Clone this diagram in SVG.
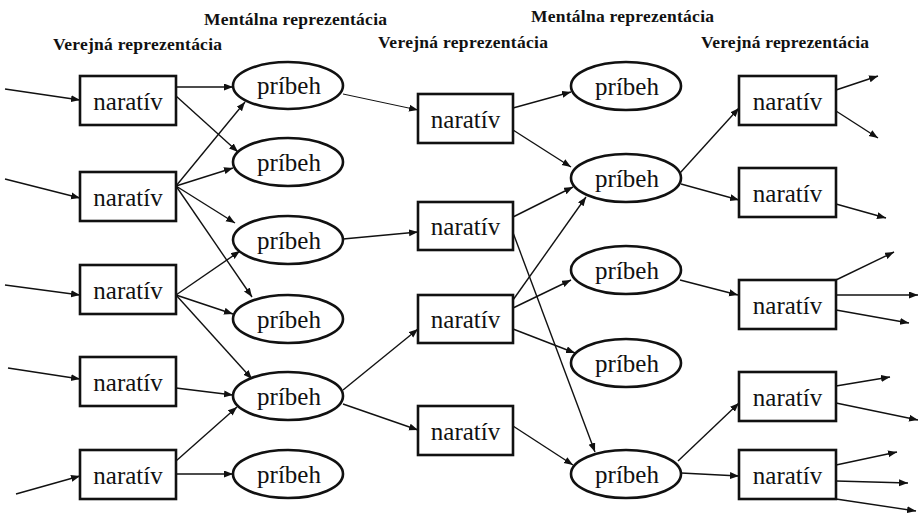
<svg xmlns="http://www.w3.org/2000/svg" width="918" height="513" viewBox="0 0 918 513">
<defs>
<marker id="ah" markerUnits="userSpaceOnUse" markerWidth="10" markerHeight="8" refX="9" refY="3.5" orient="auto">
<path d="M0,0 L9,3.5 L0,7 Z" fill="#111"/>
</marker>
<style>
.box{fill:#fff;stroke:#111;stroke-width:2.6}
.ell{fill:#fff;stroke:#111;stroke-width:2.6}
.lbl{font-family:"Liberation Serif","Times New Roman",serif;font-size:25px;fill:#111;text-anchor:middle}
.hdr{font-family:"Liberation Serif","Times New Roman",serif;font-size:17.5px;font-weight:bold;fill:#111}
.c{stroke:#111;stroke-width:1.4;fill:none;marker-end:url(#ah)}
.thin{stroke-width:1}
</style>
</defs>
<rect width="918" height="513" fill="#fff"/>
<g id="headers">
<text class="hdr" x="204" y="25" textLength="183">Mentálna reprezentácia</text>
<text class="hdr" x="53" y="50" textLength="169">Verejná reprezentácia</text>
<text class="hdr" x="378" y="48" textLength="170">Verejná reprezentácia</text>
<text class="hdr" x="531" y="22" textLength="183">Mentálna reprezentácia</text>
<text class="hdr" x="701" y="48" textLength="168">Verejná reprezentácia</text>
</g>
<g id="connectors">
<line class="c" x1="5" y1="89" x2="80" y2="100"/>
<line class="c" x1="5" y1="179" x2="80" y2="198"/>
<line class="c" x1="5" y1="285" x2="80" y2="295"/>
<line class="c" x1="8" y1="368" x2="80" y2="379"/>
<line class="c" x1="16" y1="494" x2="80" y2="476"/>
<line class="c" x1="176" y1="87" x2="233" y2="87"/>
<line class="c" x1="176" y1="96" x2="238" y2="152"/>
<line class="c" x1="176" y1="186" x2="245" y2="102"/>
<line class="c" x1="176" y1="186" x2="233" y2="168"/>
<line class="c" x1="176" y1="186" x2="235" y2="223"/>
<line class="c" x1="176" y1="186" x2="252" y2="297"/>
<line class="c" x1="176" y1="295" x2="240" y2="251"/>
<line class="c" x1="176" y1="295" x2="233" y2="314"/>
<line class="c" x1="176" y1="295" x2="252" y2="379"/>
<line class="c" x1="176" y1="388" x2="233" y2="395"/>
<line class="c" x1="176" y1="461" x2="237" y2="407"/>
<line class="c" x1="176" y1="474" x2="233" y2="474"/>
<line class="c thin" x1="343" y1="94" x2="418" y2="110"/>
<line class="c" x1="343" y1="239" x2="418" y2="232"/>
<line class="c" x1="343" y1="390" x2="418" y2="329"/>
<line class="c" x1="343" y1="404" x2="418" y2="430"/>
<line class="c" x1="513" y1="108" x2="571" y2="92"/>
<line class="c" x1="513" y1="130" x2="571" y2="167"/>
<line class="c" x1="513" y1="217" x2="573" y2="187"/>
<line class="c" x1="512" y1="230" x2="595" y2="452"/>
<line class="c" x1="513" y1="300" x2="586" y2="197"/>
<line class="c" x1="513" y1="308" x2="571" y2="280"/>
<line class="c" x1="513" y1="329" x2="575" y2="353"/>
<line class="c" x1="513" y1="426" x2="573" y2="465"/>
<line class="c" x1="680" y1="173" x2="739" y2="108"/>
<line class="c" x1="681" y1="184" x2="739" y2="200"/>
<line class="c" x1="680" y1="280" x2="738" y2="295"/>
<line class="c" x1="678" y1="461" x2="739" y2="403"/>
<line class="c" x1="681" y1="473" x2="739" y2="476"/>
<line class="c" x1="836" y1="90" x2="878" y2="76"/>
<line class="c" x1="836" y1="111" x2="878" y2="138"/>
<line class="c" x1="836" y1="204" x2="886" y2="218"/>
<line class="c" x1="836" y1="280" x2="894" y2="252"/>
<line class="c" x1="836" y1="295" x2="918" y2="295"/>
<line class="c" x1="836" y1="310" x2="909" y2="323"/>
<line class="c" x1="836" y1="386" x2="890" y2="377"/>
<line class="c" x1="836" y1="403" x2="918" y2="420"/>
<line class="c" x1="836" y1="465" x2="897" y2="452"/>
<line class="c" x1="836" y1="481" x2="908" y2="483"/>
<line class="c" x1="836" y1="499" x2="916" y2="511"/>
</g>
<g id="n_l1"><rect class="box" x="80" y="76" width="96" height="49"/><text class="lbl" x="128" y="110">naratív</text></g>
<g id="n_l2"><rect class="box" x="80" y="172" width="96" height="49"/><text class="lbl" x="128" y="206">naratív</text></g>
<g id="n_l3"><rect class="box" x="80" y="265" width="96" height="49"/><text class="lbl" x="128" y="299">naratív</text></g>
<g id="n_l4"><rect class="box" x="80" y="357" width="96" height="49"/><text class="lbl" x="128" y="391">naratív</text></g>
<g id="n_l5"><rect class="box" x="80" y="450" width="96" height="49"/><text class="lbl" x="128" y="484">naratív</text></g>
<g id="p_l1"><ellipse class="ell" cx="288" cy="85.5" rx="55" ry="23.5"/><text class="lbl" x="289" y="94">príbeh</text></g>
<g id="p_l2"><ellipse class="ell" cx="288" cy="162" rx="55" ry="24"/><text class="lbl" x="289" y="171">príbeh</text></g>
<g id="p_l3"><ellipse class="ell" cx="288" cy="240" rx="55" ry="24"/><text class="lbl" x="289" y="249">príbeh</text></g>
<g id="p_l4"><ellipse class="ell" cx="288" cy="319" rx="55" ry="24"/><text class="lbl" x="289" y="328">príbeh</text></g>
<g id="p_l5"><ellipse class="ell" cx="288" cy="396" rx="55" ry="24"/><text class="lbl" x="289" y="405">príbeh</text></g>
<g id="p_l6"><ellipse class="ell" cx="288" cy="474" rx="55" ry="24"/><text class="lbl" x="289" y="483">príbeh</text></g>
<g id="n_m1"><rect class="box" x="418" y="94" width="95" height="49"/><text class="lbl" x="465.5" y="128">naratív</text></g>
<g id="n_m2"><rect class="box" x="418" y="202" width="95" height="48"/><text class="lbl" x="465.5" y="235">naratív</text></g>
<g id="n_m3"><rect class="box" x="418" y="295" width="95" height="48"/><text class="lbl" x="465.5" y="328">naratív</text></g>
<g id="n_m4"><rect class="box" x="418" y="406" width="95" height="49"/><text class="lbl" x="465.5" y="440">naratív</text></g>
<g id="p_m1"><ellipse class="ell" cx="626" cy="86" rx="55" ry="24"/><text class="lbl" x="627" y="95">príbeh</text></g>
<g id="p_m2"><ellipse class="ell" cx="626" cy="178" rx="55" ry="24"/><text class="lbl" x="627" y="187">príbeh</text></g>
<g id="p_m3"><ellipse class="ell" cx="626" cy="270" rx="55" ry="24"/><text class="lbl" x="627" y="279">príbeh</text></g>
<g id="p_m4"><ellipse class="ell" cx="626" cy="363" rx="55" ry="24"/><text class="lbl" x="627" y="372">príbeh</text></g>
<g id="p_m5"><ellipse class="ell" cx="626" cy="474" rx="55" ry="24"/><text class="lbl" x="627" y="483">príbeh</text></g>
<g id="n_r1"><rect class="box" x="739" y="76" width="97" height="49"/><text class="lbl" x="787.5" y="110">naratív</text></g>
<g id="n_r2"><rect class="box" x="739" y="168" width="97" height="49"/><text class="lbl" x="787.5" y="202">naratív</text></g>
<g id="n_r3"><rect class="box" x="739" y="280" width="97" height="49"/><text class="lbl" x="787.5" y="314">naratív</text></g>
<g id="n_r4"><rect class="box" x="739" y="372" width="97" height="49"/><text class="lbl" x="787.5" y="406">naratív</text></g>
<g id="n_r5"><rect class="box" x="739" y="450" width="97" height="49"/><text class="lbl" x="787.5" y="484">naratív</text></g>
</svg>
